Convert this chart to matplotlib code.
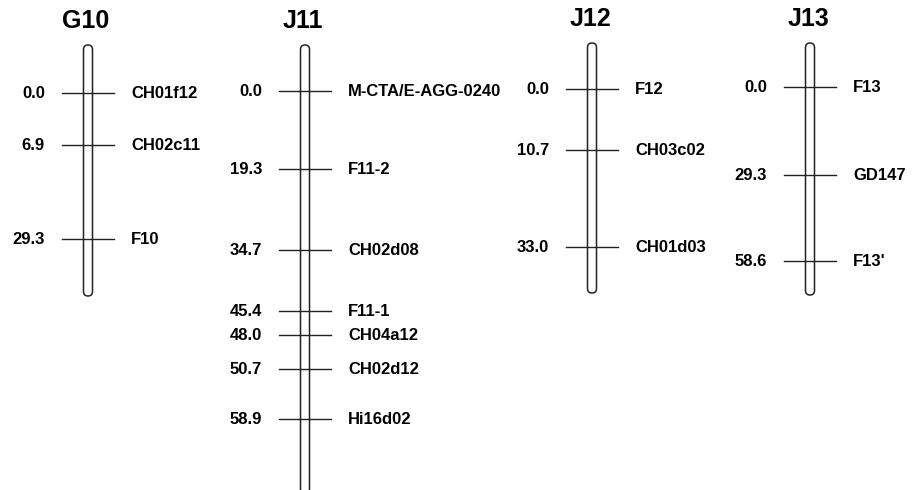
import matplotlib.pyplot as plt
from matplotlib.patches import FancyBboxPatch

plt.rcParams["font.family"] = ["Liberation Sans", "DejaVu Sans"]

# linkage groups
groups = ["G10", "J11", "J12", "J13"]

# map positions (cM) and marker names
g10_cm = ["0.0", "6.9", "29.3"]
g10_markers = ["CH01f12", "CH02c11", "F10"]
j11_cm = ["0.0", "19.3", "34.7", "45.4", "48.0", "50.7", "58.9"]
j11_markers = ["M-CTA/E-AGG-0240", "F11-2", "CH02d08", "F11-1",
               "CH04a12", "CH02d12", "Hi16d02"]
j12_cm = ["0.0", "10.7", "33.0"]
j12_markers = ["F12", "CH03c02", "CH01d03"]
j13_cm = ["0.0", "29.3", "58.6"]
j13_markers = ["F13", "GD147", "F13'"]

# drawn positions of the markers along each bar (as laid out in the figure)
g10_y = [93, 145, 239]
j11_y = [91, 169, 250, 311, 335, 369, 419]
j12_y = [89, 150, 247]
j13_y = [87, 175, 261]

# bar layout: centre x, top, bottom
bar_x = [88, 305, 592, 810]
bar_top = [45, 45, 43, 43]
bar_bottom = [296, 494, 293, 295]

all_cm = [g10_cm, j11_cm, j12_cm, j13_cm]
all_markers = [g10_markers, j11_markers, j12_markers, j13_markers]
all_y = [g10_y, j11_y, j12_y, j13_y]

fig = plt.figure(figsize=(9.16, 4.9), dpi=100)
ax = fig.add_axes([0, 0, 1, 1])
ax.set_xlim(0, 916)
ax.set_ylim(490, 0)
ax.axis("off")

bar_w = 9
tick_half = 26

for i, name in enumerate(groups):
    x = bar_x[i]
    bar = FancyBboxPatch(
        (x - bar_w / 2, bar_top[i]), bar_w, bar_bottom[i] - bar_top[i],
        boxstyle="round,pad=0,rounding_size=4.5",
        facecolor="white", edgecolor="#222222", linewidth=1.1,
        zorder=2
    )
    ax.add_patch(bar)

    ax.text(x - 2, bar_top[i] - 24, name, ha="center", va="center",
            fontsize=18, fontweight="bold")

    for cm, marker, y in zip(all_cm[i], all_markers[i], all_y[i]):
        ax.plot([x - tick_half, x + tick_half], [y, y],
                color="#222222", linewidth=1.0, zorder=3)
        ax.text(x - 43, y, cm, ha="right", va="center",
                fontsize=12, fontweight="bold")
        ax.text(x + 43, y, marker, ha="left", va="center",
                fontsize=12, fontweight="bold")

fig.savefig("out.png", dpi=100)
